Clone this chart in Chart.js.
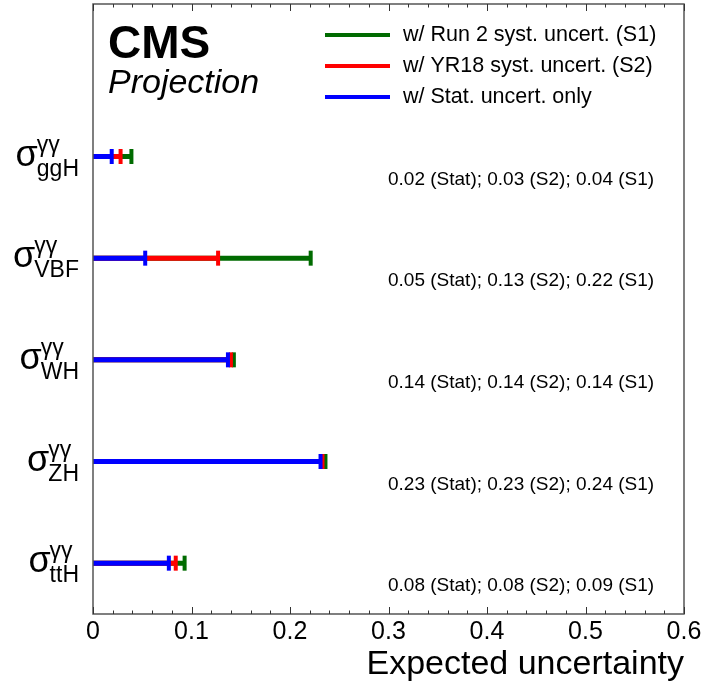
<!DOCTYPE html>
<html>
<head>
<meta charset="utf-8">
<title>Expected uncertainty</title>
<script src="https://cdn.jsdelivr.net/npm/chart.js@4.4.1/dist/chart.umd.min.js"></script>
<style>
  html, body { margin: 0; padding: 0; background: #fff; }
  #chart { display: block; }
</style>
</head>
<body>
<canvas id="chart" width="712" height="685"></canvas>
<script>
// production modes, top to bottom
const categories = ['ggH', 'VBF', 'WH', 'ZH', 'ttH'];
const categoryPos = [4.5, 3.5, 2.5, 1.5, 0.5];

// expected uncertainties
const statValues = [0.019, 0.053, 0.137, 0.231, 0.077];
const s2Values = [0.028, 0.127, 0.140, 0.233, 0.084];
const s1Values = [0.039, 0.221, 0.143, 0.236, 0.093];

const xTickLabels = ['0', '0.1', '0.2', '0.3', '0.4', '0.5', '0.6'];

const legendLabels = ['w/ Run 2 syst. uncert. (S1)', 'w/ YR18 syst. uncert. (S2)', 'w/ Stat. uncert. only'];

const FONT = '"Liberation Sans", Arial, Helvetica, sans-serif';
const GREEN = '#006b00';
const RED = '#ff0000';
const BLUE = '#0000ff';

// one horizontal segment per category, from 0 to the value, with gaps between
function segments(values) {
    const pts = [];
    values.forEach((v, i) => {
        pts.push({ x: 0, y: categoryPos[i] });
        pts.push({ x: v, y: categoryPos[i] });
        pts.push({ x: null, y: null });
    });
    return pts;
}

function serie(label, values, color) {
    return {
        label: label,
        data: segments(values),
        borderColor: color,
        backgroundColor: color,
        borderWidth: 5,
        borderCapStyle: 'butt',
        spanGaps: false,
        pointStyle: 'line',
        rotation: 90,
        pointRadius: (ctx) => (ctx.raw && ctx.raw.x > 0 ? 7.5 : 0),
        pointHoverRadius: 0,
        pointBorderWidth: 4,
        pointBorderColor: color
    };
}

const frameAndText = {
    id: 'frameAndText',
    afterDraw(chart) {
        const ctx = chart.ctx;
        const area = chart.chartArea;
        const xs = chart.scales.x;
        const ys = chart.scales.y;
        ctx.save();

        // frame
        ctx.strokeStyle = '#555';
        ctx.lineWidth = 1.5;
        ctx.strokeRect(area.left, area.top, area.right - area.left, area.bottom - area.top);

        // inward ticks, top and bottom
        ctx.lineWidth = 1;
        ctx.strokeStyle = '#333';
        for (let k = 0; k <= 30; k++) {
            const px = Math.round(xs.getPixelForValue(k * 0.02)) + 0.5;
            const len = k % 5 === 0 ? 7 : 3.5;
            ctx.beginPath();
            ctx.moveTo(px, area.bottom);
            ctx.lineTo(px, area.bottom - len);
            ctx.moveTo(px, area.top);
            ctx.lineTo(px, area.top + len);
            ctx.stroke();
        }

        ctx.fillStyle = '#000';

        // CMS Projection
        ctx.textAlign = 'left';
        ctx.textBaseline = 'alphabetic';
        ctx.font = 'bold 46px ' + FONT;
        ctx.fillText('CMS', 108, 58);
        ctx.font = 'italic 34px ' + FONT;
        ctx.fillText('Projection', 108, 93);

        // legend
        const legendColors = [GREEN, RED, BLUE];
        ctx.font = '21.5px ' + FONT;
        ctx.textBaseline = 'middle';
        legendLabels.forEach((txt, i) => {
            const y = 35 + i * 31;
            ctx.strokeStyle = legendColors[i];
            ctx.lineWidth = 4;
            ctx.beginPath();
            ctx.moveTo(325, y);
            ctx.lineTo(390, y);
            ctx.stroke();
            ctx.fillText(txt, 403, y);
        });

        // value summaries under each row
        ctx.font = '19px ' + FONT;
        categories.forEach((c, i) => {
            const y = ys.getPixelForValue(categoryPos[i]) + 23;
            const txt = statValues[i].toFixed(2) + ' (Stat); ' +
                s2Values[i].toFixed(2) + ' (S2); ' +
                s1Values[i].toFixed(2) + ' (S1)';
            ctx.fillText(txt, 388, y);
        });

        // row labels: sigma with gamma-gamma superscript and mode subscript
        const rightEdge = 79;
        ctx.textBaseline = 'alphabetic';
        categories.forEach((c, i) => {
            const y = ys.getPixelForValue(categoryPos[i]);
            ctx.font = '23px ' + FONT;
            const subW = ctx.measureText(c).width;
            const supW = ctx.measureText('γγ').width;
            const scriptX = rightEdge - Math.max(subW, supW);
            ctx.fillText(c, scriptX, y + 19);
            ctx.fillText('γγ', scriptX, y - 5);
            ctx.font = '36px ' + FONT;
            const sigW = ctx.measureText('σ').width;
            ctx.fillText('σ', scriptX - sigW + 1, y + 9);
        });

        ctx.restore();
    }
};

new Chart(document.getElementById('chart'), {
    type: 'line',
    data: {
        datasets: [
            serie('Stat', statValues, BLUE),
            serie('S2', s2Values, RED),
            serie('S1', s1Values, GREEN)
        ]
    },
    options: {
        responsive: false,
        animation: false,
        layout: { padding: { left: 93, right: 28, top: 4, bottom: 0 } },
        plugins: {
            legend: { display: false },
            tooltip: { enabled: false }
        },
        scales: {
            x: {
                type: 'linear',
                min: 0,
                max: 0.6,
                grid: { display: false, drawTicks: false },
                border: { display: false },
                ticks: {
                    stepSize: 0.1,
                    padding: 6,
                    color: '#000',
                    maxRotation: 0,
                    font: { family: FONT, size: 25, lineHeight: 1 },
                    callback: (v, idx) => xTickLabels[idx]
                },
                title: {
                    display: true,
                    text: 'Expected uncertainty',
                    align: 'end',
                    color: '#000',
                    font: { family: FONT, size: 34, lineHeight: 1 },
                    padding: { top: -3, bottom: 3 }
                }
            },
            y: {
                type: 'linear',
                display: false,
                min: 0,
                max: 6
            }
        }
    },
    plugins: [frameAndText]
});
</script>
</body>
</html>
